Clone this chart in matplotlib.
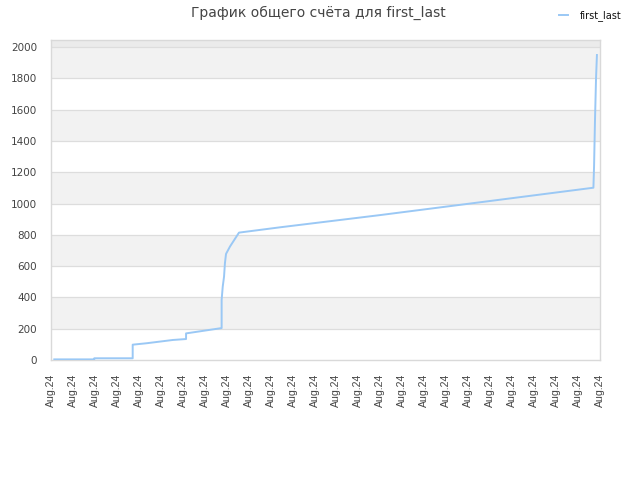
import matplotlib
matplotlib.use("Agg")
import matplotlib.pyplot as plt
import matplotlib.dates as mdates
from datetime import datetime, timedelta

# Data (time in days since 2024-08-01, cumulative score)
days = [0.15, 1.97, 1.97, 3.72, 3.72, 4.35, 5.55, 6.15, 6.15, 7.77, 7.77, 7.82, 7.88,
        7.92, 7.97, 8.15, 8.56, 10.43, 14.98, 19.54, 24.70, 24.73, 24.77, 24.82, 24.86]
scores = [4, 4, 11, 11, 98, 107, 128, 134, 170, 204, 384, 469, 533,
          618, 678, 725, 814, 848, 926, 1008, 1101, 1240, 1520, 1802, 1949]
series_name = "first_last"
title = "График общего счёта для first_last"
start = datetime(2024, 8, 1)
n_ticks = 26

x = [start + timedelta(days=d) for d in days]

fig = plt.figure(figsize=(6.4, 4.8), dpi=100)
ax = fig.add_axes([51/640, 120/480, 549/640, 320/480])

ymax = 2045
# alternating bands
for lo in range(200, 2000, 400):
    ax.axhspan(lo, lo + 200, color="#f2f2f2", zorder=0, lw=0)
ax.axhspan(2000, ymax, color="#ebebeb", zorder=0, lw=0)
for yv in range(200, 2001, 200):
    ax.axhline(yv, color="#dddddd", lw=0.9, zorder=1)

ax.plot(x, scores, color="#9ac8f5", lw=1.4, zorder=3, label=series_name)

ax.set_ylim(0, ymax)
ax.set_xlim(start, start + timedelta(days=n_ticks - 1))
ax.set_yticks(range(0, 2001, 200))
ax.xaxis.set_major_locator(mdates.DayLocator(interval=1))
ax.xaxis.set_major_formatter(mdates.DateFormatter("%b.%y"))
ax.tick_params(axis="x", labelrotation=90, length=0, pad=10, labelcolor="#444444")
ax.tick_params(axis="y", length=0, pad=10, labelsize=7.5, labelcolor="#444444")
for lab in ax.get_xticklabels():
    lab.set_fontfamily("Liberation Sans")
    lab.set_fontsize(7.6)
for sp in ax.spines.values():
    sp.set_color("#d9d9d9")
    sp.set_linewidth(1)

fig.text(0.497, 0.988, title, ha="center", va="top", fontsize=10, color="#444444")
leg = fig.legend(loc="upper right", bbox_to_anchor=(0.985, 0.997), frameon=False,
                 fontsize=7, handlelength=1.0, handletextpad=1.2)
for t in leg.get_texts():
    t.set_color("#111111")

fig.savefig("out.png", dpi=100)
